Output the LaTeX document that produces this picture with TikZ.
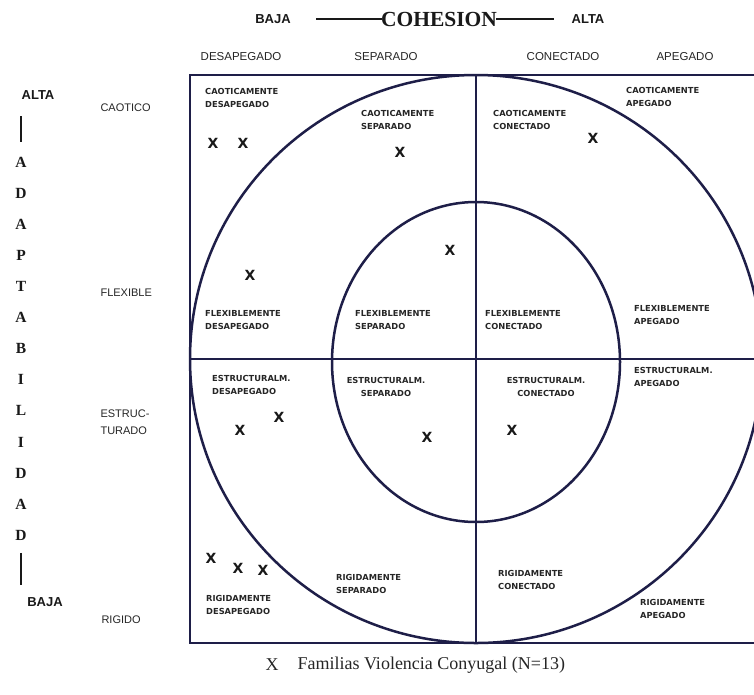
\documentclass[tikz,border=0pt]{standalone}
\usepackage{fontspec}
\setmainfont{Liberation Serif}
\setsansfont{Liberation Sans}
\newfontfamily\pixfont{DejaVu Sans}
\usetikzlibrary{positioning}
\definecolor{ink}{RGB}{30,30,72}
\tikzstyle{cell} = [anchor=north west, align=left, inner sep=0pt, text=black!85, font=\pixfont\bfseries\fontsize{8.3}{13.5}\selectfont]
\tikzstyle{cellc} = [cell, anchor=north, align=center]
\tikzstyle{famx} = [inner sep=0pt, text=black!90, font=\pixfont\bfseries\fontsize{14}{14}\selectfont]
\tikzstyle{colhead} = [text=black!85, font=\sffamily\fontsize{11.5}{12}\selectfont]
\tikzstyle{rowlbl} = [anchor=west, align=left, text=black!85, font=\sffamily\fontsize{11}{17}\selectfont]
\tikzstyle{axis} = [text=black!90, font=\sffamily\bfseries\fontsize{13}{13}\selectfont]
\tikzstyle{vletter} = [text=black!90, font=\bfseries\fontsize{15.5}{15.5}\selectfont]
\tikzstyle{frame} = [ink, line width=2.8pt]
\tikzstyle{ring} = [ink, line width=2.5pt]
\tikzstyle{bar} = [black!90, line width=2.6pt]

\begin{document}
\begin{tikzpicture}[x=1pt,y=-1pt]
\clip (0,0) rectangle (754,694);
\fill[white] (0,0) rectangle (754,694);

\draw[frame] (190,75) rectangle (762,643);
\draw[ink, line width=2pt] (476,75) -- (476,643);
\draw[frame] (190,359) -- (762,359);
\draw[ring] (476,359) ellipse [x radius=286pt, y radius=284pt];
\draw[ring] (476,362) ellipse [x radius=144pt, y radius=160pt];

\node (baja) [axis] at (273,19) {BAJA};
\node (cohesion) [text=black!90, font=\bfseries\fontsize{21.5}{21.5}\selectfont] at (439,19) {COHESION};
\node (alta) [axis] at (588,19) {ALTA};
\draw [bar, line width=1.4pt, shorten <=22pt, shorten >=-4pt] (baja.east) -- (cohesion.west);
\draw [bar, line width=1.4pt, shorten <=-4pt, shorten >=14pt] (cohesion.east) -- (alta.west);

\node (desap) [colhead] at (241,57) {DESAPEGADO};
\node (separ) [colhead] at (386,57) {SEPARADO};
\node (conec) [colhead] at (563,57) {CONECTADO};
\node (apeg) [colhead] at (685,57) {APEGADO};

\node (altav) [axis] at (38,95) {ALTA};
\foreach \ch [count=\i] in {A,D,A,P,T,A,B,I,L,I,D,A,D}
  \node (v\i) [vletter] at (21,131+31.1*\i) {\ch};
\node (bajav) [axis] at (45,602) {BAJA};
\draw [bar, shorten <=13pt, shorten >=11pt] (altav.south -| v1) -- (v1.north);
\draw [bar, shorten <=9pt, shorten >=9pt] (v13.south) -- (bajav.north -| v13);

\node (caot) [rowlbl] at (97,108) {CAOTICO};
\node (flex) [rowlbl] at (97,293) {FLEXIBLE};
\node (estr) [rowlbl] at (97,422) {ESTRUC-\\TURADO};
\node (rigi) [rowlbl] at (98,620) {RIGIDO};

\node (cd) [cell] at (205,88) {CAOTICAMENTE\\DESAPEGADO};
\node (cs) [cell] at (361,110) {CAOTICAMENTE\\SEPARADO};
\node (cc) [cell] at (493,110) {CAOTICAMENTE\\CONECTADO};
\node (ca) [cell] at (626,87) {CAOTICAMENTE\\APEGADO};
\node (fd) [cell] at (205,310) {FLEXIBLEMENTE\\DESAPEGADO};
\node (fs) [cell] at (355,310) {FLEXIBLEMENTE\\SEPARADO};
\node (fc) [cell] at (485,310) {FLEXIBLEMENTE\\CONECTADO};
\node (fa) [cell] at (634,305) {FLEXIBLEMENTE\\APEGADO};
\node (ed) [cell] at (212,375) {ESTRUCTURALM.\\DESAPEGADO};
\node (es) [cellc] at (386,377) {ESTRUCTURALM.\\SEPARADO};
\node (ec) [cellc] at (546,377) {ESTRUCTURALM.\\CONECTADO};
\node (ea) [cell] at (634,367) {ESTRUCTURALM.\\APEGADO};
\node (rd) [cell] at (206,595) {RIGIDAMENTE\\DESAPEGADO};
\node (rs) [cell] at (336,574) {RIGIDAMENTE\\SEPARADO};
\node (rc) [cell] at (498,570) {RIGIDAMENTE\\CONECTADO};
\node (ra) [cell] at (640,599) {RIGIDAMENTE\\APEGADO};

\foreach \px/\py [count=\k] in {213/143, 243/143, 400/152, 593/138, 450/250, 250/275,
    240/430, 279/417, 427/437, 512/430, 211/558, 238/568, 263/570}
  \node (x\k) [famx] at (\px,\py) {X};

\node (legx) [text=black!85, font=\fontsize{18}{18}\selectfont] at (272,665) {X};
\node (leg) [right=12pt of legx, text=black!85, font=\fontsize{18}{18}\selectfont] {Familias Violencia Conyugal (N=13)};
\end{tikzpicture}
\end{document}
